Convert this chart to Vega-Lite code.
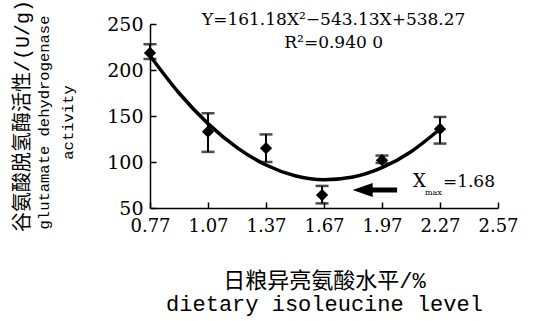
{
  "$schema": "https://vega.github.io/schema/vega-lite/v6.json",
  "width": 348,
  "height": 184,
  "autosize": "none",
  "padding": {"left": 150, "top": 24, "right": 46, "bottom": 113},
  "background": "white",
  "config": {"view": {"stroke": null}},
  "title": {
    "text": "谷氨酸脱氢酶活性/(U/g)",
    "orient": "left",
    "anchor": "middle",
    "font": "Liberation Mono, Noto Sans CJK SC",
    "fontSize": 20,
    "fontWeight": "normal",
    "color": "black",
    "offset": 3
  },
  "datasets": {
    "pts": [
      {"x": 0.77, "y": 218.5, "lo": 212, "hi": 228},
      {"x": 1.07, "y": 133, "lo": 111, "hi": 153},
      {"x": 1.37, "y": 115, "lo": 100, "hi": 130},
      {"x": 1.66, "y": 64, "lo": 55, "hi": 74},
      {"x": 1.97, "y": 102, "lo": 99, "hi": 107},
      {"x": 2.27, "y": 136, "lo": 120, "hi": 149}
    ],
    "curve": [
      {"x": 0.77, "y": 215.6},
      {"x": 0.92, "y": 175.0},
      {"x": 1.07, "y": 141.7},
      {"x": 1.22, "y": 115.6},
      {"x": 1.37, "y": 96.7},
      {"x": 1.52, "y": 85.1},
      {"x": 1.67, "y": 80.7},
      {"x": 1.82, "y": 83.7},
      {"x": 1.97, "y": 93.8},
      {"x": 2.12, "y": 111.2},
      {"x": 2.27, "y": 135.9}
    ],
    "labels": [
      {"x": 1.72, "y": 254.3, "t": "Y=161.18X²−543.13X+538.27"},
      {"x": 1.72, "y": 229.3, "t": "R²=0.940 0"}
    ],
    "xmax": [
      {"x": 2.13, "y": 78.3, "t": "X", "size": 18, "style": "italic"},
      {"x": 2.192, "y": 66.5, "t": "max", "size": 8, "style": "normal"},
      {"x": 2.285, "y": 78.3, "t": "=1.68", "size": 17, "style": "normal"}
    ],
    "arrow": [{"x": 1.87, "x2": 2.048, "y": 69.6}]
  },
  "encoding": {
    "x": {
      "field": "x", "type": "quantitative",
      "scale": {"domain": [0.77, 2.57], "nice": false, "zero": false},
      "axis": {
        "values": [0.77, 1.07, 1.37, 1.67, 1.97, 2.27, 2.57],
        "format": ".2f",
        "grid": false,
        "domainColor": "black", "domainWidth": 1.5,
        "tickColor": "black", "tickWidth": 1.5, "tickSize": -6,
        "labelFont": "DejaVu Serif", "labelFontSize": 18, "labelColor": "black",
        "labelPadding": 15, "labelFlush": false, "labelOverlap": false,
        "title": ["日粮异亮氨酸水平/%", "dietary isoleucine level"],
        "titleFont": "Liberation Mono, Noto Sans CJK SC",
        "titleFontSize": 22, "titleFontWeight": "normal", "titleColor": "black",
        "titleLineHeight": 23, "titlePadding": 35
      }
    },
    "y": {
      "field": "y", "type": "quantitative",
      "scale": {"domain": [50, 250], "nice": false, "zero": false},
      "axis": {
        "values": [50, 100, 150, 200, 250],
        "grid": false,
        "domainColor": "black", "domainWidth": 1.5,
        "tickColor": "black", "tickWidth": 1.5, "tickSize": -6,
        "labelFont": "DejaVu Serif", "labelFontSize": 19, "labelColor": "black",
        "labelPadding": 13, "labelFlush": false, "labelOverlap": false,
        "title": ["glutamate dehydrogenase", "activity"],
        "titleFont": "Liberation Mono",
        "titleFontSize": 15.5, "titleFontWeight": "normal", "titleColor": "black",
        "titleLineHeight": 24,
        "titleAngle": -90,
        "titleBaseline": "top",
        "titleAlign": "center",
        "titleX": -114,
        "titleY": 98
      }
    }
  },
  "layer": [
    {
      "data": {"name": "curve"},
      "mark": {"type": "line", "color": "black", "strokeWidth": 3.5, "interpolate": "monotone"}
    },
    {
      "data": {"name": "pts"},
      "mark": {"type": "errorbar", "color": "black", "thickness": 2, "ticks": {"size": 13, "thickness": 2.5, "color": "black"}},
      "encoding": {
        "y": {"field": "lo", "type": "quantitative"},
        "y2": {"field": "hi"}
      }
    },
    {
      "data": {"name": "pts"},
      "mark": {"type": "point", "shape": "diamond", "filled": true, "color": "black", "size": 150, "opacity": 1}
    },
    {
      "data": {"name": "arrow"},
      "mark": {"type": "rule", "color": "black", "strokeWidth": 5},
      "encoding": {"x2": {"field": "x2"}}
    },
    {
      "data": {"name": "arrow"},
      "mark": {"type": "point", "shape": "M -1 0 L 1 -0.7 L 1 0.7 Z", "filled": true, "color": "black", "size": 400, "opacity": 1}
    },
    {
      "data": {"name": "labels"},
      "mark": {"type": "text", "font": "DejaVu Serif", "fontSize": 17, "color": "black", "baseline": "middle", "align": "center"},
      "encoding": {"text": {"field": "t"}}
    },
    {
      "data": {"name": "xmax"},
      "mark": {"type": "text", "font": "DejaVu Serif", "color": "black", "baseline": "middle", "align": "left"},
      "encoding": {
        "text": {"field": "t"},
        "size": {"field": "size", "type": "quantitative", "scale": null},
        "fontStyle": {"field": "style"}
      }
    }
  ]
}
